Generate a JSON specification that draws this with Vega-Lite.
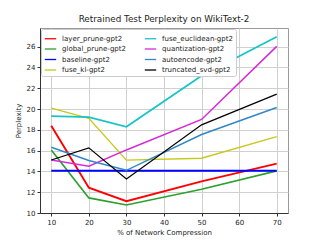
{
  "$schema": "https://vega.github.io/schema/vega-lite/v6.json",
  "autosize": "none",
  "width": 248,
  "height": 185,
  "padding": {"left": 40, "top": 28, "right": 32, "bottom": 27},
  "background": "white",
  "title": {"text": "Retrained Test Perplexity on WikiText-2", "font": "DejaVu Sans", "fontSize": 8.8, "fontWeight": "normal", "color": "#222", "offset": 4},
  "data": {"values": [
    {"x": 10, "y": 18.39, "series": "layer_prune-gpt2"},
    {"x": 20, "y": 12.44, "series": "layer_prune-gpt2"},
    {"x": 30, "y": 11.13, "series": "layer_prune-gpt2"},
    {"x": 50, "y": 13.05, "series": "layer_prune-gpt2"},
    {"x": 70, "y": 14.75, "series": "layer_prune-gpt2"},
    {"x": 10, "y": 16.07, "series": "global_prune-gpt2"},
    {"x": 20, "y": 11.45, "series": "global_prune-gpt2"},
    {"x": 30, "y": 10.77, "series": "global_prune-gpt2"},
    {"x": 50, "y": 12.28, "series": "global_prune-gpt2"},
    {"x": 70, "y": 14.05, "series": "global_prune-gpt2"},
    {"x": 10, "y": 14.07, "series": "baseline-gpt2"},
    {"x": 20, "y": 14.07, "series": "baseline-gpt2"},
    {"x": 30, "y": 14.07, "series": "baseline-gpt2"},
    {"x": 50, "y": 14.07, "series": "baseline-gpt2"},
    {"x": 70, "y": 14.07, "series": "baseline-gpt2"},
    {"x": 10, "y": 20.08, "series": "fuse_kl-gpt2"},
    {"x": 20, "y": 19.1, "series": "fuse_kl-gpt2"},
    {"x": 30, "y": 15.08, "series": "fuse_kl-gpt2"},
    {"x": 50, "y": 15.27, "series": "fuse_kl-gpt2"},
    {"x": 70, "y": 17.35, "series": "fuse_kl-gpt2"},
    {"x": 10, "y": 19.32, "series": "fuse_euclidean-gpt2"},
    {"x": 20, "y": 19.22, "series": "fuse_euclidean-gpt2"},
    {"x": 30, "y": 18.29, "series": "fuse_euclidean-gpt2"},
    {"x": 50, "y": 23.2, "series": "fuse_euclidean-gpt2"},
    {"x": 70, "y": 26.96, "series": "fuse_euclidean-gpt2"},
    {"x": 10, "y": 15.11, "series": "quantization-gpt2"},
    {"x": 20, "y": 14.5, "series": "quantization-gpt2"},
    {"x": 30, "y": 16.07, "series": "quantization-gpt2"},
    {"x": 50, "y": 19.0, "series": "quantization-gpt2"},
    {"x": 70, "y": 26.03, "series": "quantization-gpt2"},
    {"x": 10, "y": 16.33, "series": "autoencode-gpt2"},
    {"x": 20, "y": 15.05, "series": "autoencode-gpt2"},
    {"x": 30, "y": 14.11, "series": "autoencode-gpt2"},
    {"x": 50, "y": 17.55, "series": "autoencode-gpt2"},
    {"x": 70, "y": 20.15, "series": "autoencode-gpt2"},
    {"x": 10, "y": 15.1, "series": "truncated_svd-gpt2"},
    {"x": 20, "y": 16.27, "series": "truncated_svd-gpt2"},
    {"x": 30, "y": 13.28, "series": "truncated_svd-gpt2"},
    {"x": 50, "y": 18.48, "series": "truncated_svd-gpt2"},
    {"x": 70, "y": 21.44, "series": "truncated_svd-gpt2"}
  ]},
  "mark": {"type": "line", "clip": true},
  "encoding": {
    "x": {"field": "x", "type": "quantitative", "title": "% of Network Compression",
      "scale": {"domain": [7, 73], "nice": false, "zero": false},
      "axis": {"values": [10, 20, 30, 40, 50, 60, 70]}},
    "y": {"field": "y", "type": "quantitative", "title": "Perplexity",
      "scale": {"domain": [10, 27.8], "nice": false, "zero": false},
      "axis": {"values": [10, 12, 14, 16, 18, 20, 22, 24, 26]}},
    "color": {"field": "series", "type": "nominal",
      "scale": {
        "domain": ["layer_prune-gpt2", "global_prune-gpt2", "baseline-gpt2", "fuse_kl-gpt2", "fuse_euclidean-gpt2", "quantization-gpt2", "autoencode-gpt2", "truncated_svd-gpt2"],
        "range": ["#ff0000", "#2ca02c", "#0000ff", "#c8c81a", "#17c4c8", "#d62ad6", "#2f86c8", "#000000"]},
      "legend": {"title": null, "orient": "top-left", "columns": 2, "offset": 1, "padding": 3,
        "columnPadding": 9, "rowPadding": 0.5, "symbolType": "stroke", "symbolSize": 130, "symbolStrokeWidth": 1.3,
        "labelFont": "DejaVu Sans", "labelFontSize": 7, "labelColor": "#222", "labelOffset": 5,
        "fillColor": "white", "strokeColor": "#cccccc", "cornerRadius": 2, "gridAlign": "all"}},
    "strokeWidth": {"field": "series", "type": "nominal",
      "scale": {"domain": ["baseline-gpt2", "layer_prune-gpt2", "fuse_euclidean-gpt2", "global_prune-gpt2", "quantization-gpt2", "autoencode-gpt2", "fuse_kl-gpt2", "truncated_svd-gpt2"],
        "range": [2, 1.2, 1.2, 1.2, 1.2, 1.2, 1.2, 1.2]}, "legend": null}
  },
  "config": {
    "font": "DejaVu Sans",
    "view": {"stroke": "#999999", "strokeWidth": 1},
    "axis": {"labelFont": "DejaVu Sans", "labelFontSize": 7, "labelColor": "#222", "titleFont": "DejaVu Sans",
      "titleFontSize": 7, "titleFontWeight": "normal", "titleColor": "#222", "gridColor": "#d0d0d0", "gridWidth": 1,
      "domainColor": "#333", "tickColor": "#333", "tickSize": 3, "labelPadding": 2},
    "axisY": {"titlePadding": 5},
    "axisX": {"titlePadding": 3}
  }
}
